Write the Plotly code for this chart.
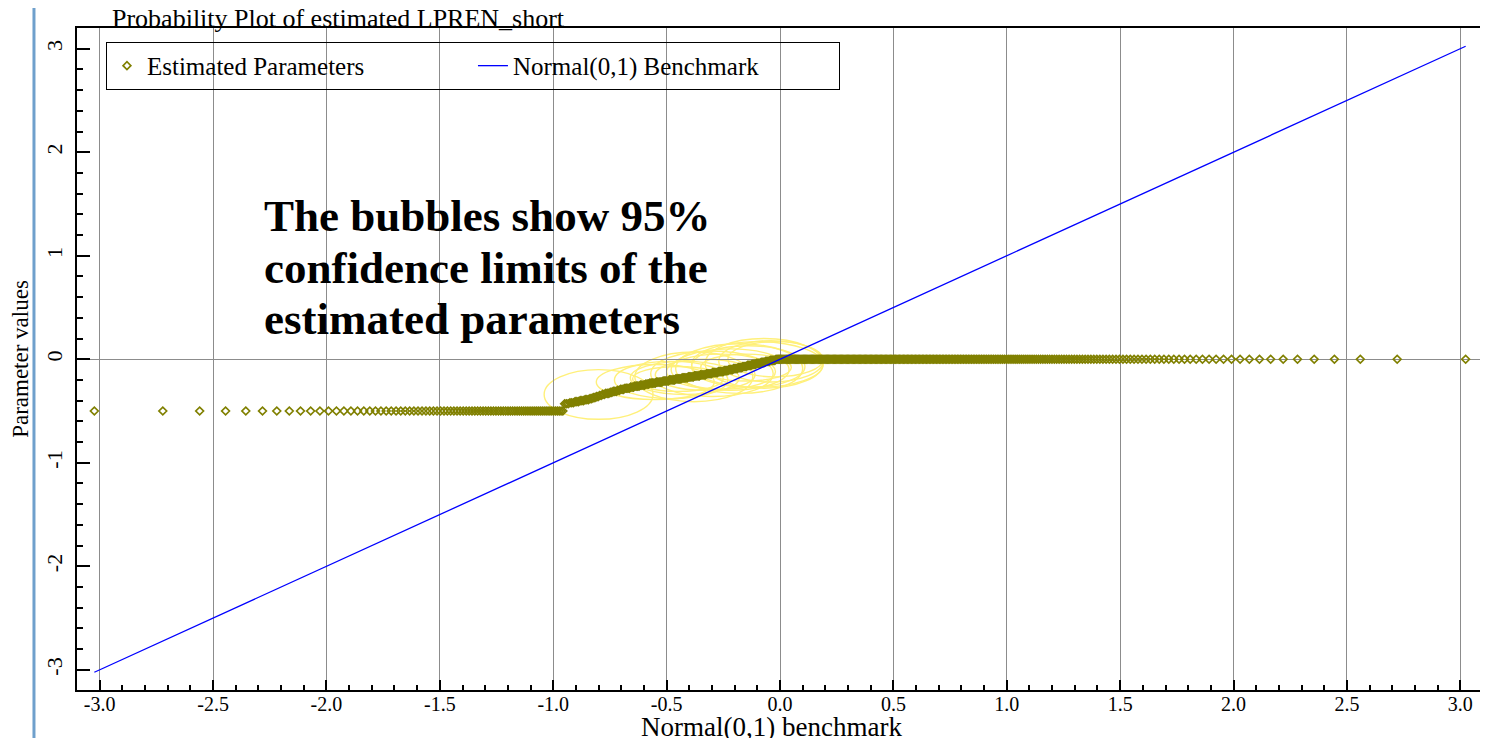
import numpy as np
from statistics import NormalDist
import plotly.graph_objects as go

# ---------------- data ----------------
# sorted estimated parameter values, run-length encoded: level and how many estimates sit at it
PARAM_LEVELS = [-0.50,
                -0.43, -0.42, -0.41, -0.40, -0.39,
                -0.38, -0.37, -0.36, -0.35, -0.34,
                -0.33, -0.32, -0.31, -0.30,
                -0.29, -0.28, -0.27,
                -0.26, -0.25, -0.24,
                -0.23, -0.22, -0.21, -0.20, -0.19, -0.18, -0.17, -0.16,
                -0.15, -0.14, -0.13, -0.12,
                -0.11, -0.10, -0.09, -0.08, -0.07, -0.06,
                -0.05, -0.04, -0.03, -0.02, -0.01,
                0.00]
PARAM_COUNTS = [85,
                3, 3, 3, 3, 3,
                2, 2, 2, 2, 2,
                3, 2, 3, 2,
                3, 4, 3,
                4, 4, 3,
                5, 5, 5, 5, 5, 5, 5, 5,
                5, 5, 5, 5,
                4, 4, 4, 4, 4, 4,
                4, 4, 4, 4, 5,
                254]

# 95% confidence bubbles: centre (x, y) and half-extent in x and y
BUBBLE_X = [-0.80, -0.55, -0.48, -0.42, -0.38, -0.33, -0.30, -0.26, -0.22, -0.18, -0.14, -0.10, -0.07, -0.04, -0.02, -0.45, -0.15]
BUBBLE_Y = [-0.34, -0.22, -0.20, -0.18, -0.17, -0.15, -0.14, -0.12, -0.10, -0.09, -0.07, -0.05, -0.04, -0.02, 0.00, -0.19, -0.08]
BUBBLE_RX = [0.24, 0.26, 0.25, 0.24, 0.26, 0.22, 0.27, 0.24, 0.26, 0.28, 0.25, 0.29, 0.26, 0.23, 0.21, 0.20, 0.20]
BUBBLE_RY = [0.24, 0.17, 0.18, 0.16, 0.24, 0.15, 0.22, 0.17, 0.20, 0.24, 0.20, 0.22, 0.24, 0.20, 0.17, 0.12, 0.13]

X_TICKS = [-3.0, -2.5, -2.0, -1.5, -1.0, -0.5, 0.0, 0.5, 1.0, 1.5, 2.0, 2.5, 3.0]
X_TICK_LABELS = ["-3.0", "-2.5", "-2.0", "-1.5", "-1.0", "-0.5", "0.0", "0.5", "1.0", "1.5", "2.0", "2.5", "3.0"]
Y_TICKS = [-3, -2, -1, 0, 1, 2, 3]
Y_TICK_LABELS = ["-3", "-2", "-1", "0", "1", "2", "3"]

TITLE = "Probability Plot of estimated LPREN_short"
X_TITLE = "Normal(0,1) benchmark"
Y_TITLE = "Parameter values"
NOTE_LINES = ["The bubbles show 95%", "confidence limits of the", "estimated parameters"]

# ---------------- probability plot positions ----------------
est = np.repeat(PARAM_LEVELS, PARAM_COUNTS)
n = len(est)
nd = NormalDist()
q = np.array([nd.inv_cdf((i + 1 - 0.375) / (n + 0.25)) for i in range(n)])

SERIF = "Liberation Serif, Times New Roman, serif"
W, H = 1480, 730  # page adds an 8px body margin

fig = go.Figure()
fig.add_trace(go.Scatter(
    x=q, y=est, mode="markers", name="Estimated Parameters",
    marker=dict(symbol="diamond-open", size=6, color="#808000", line=dict(width=1.7, color="#808000")),
))
fig.add_trace(go.Scatter(
    x=q, y=q, mode="lines", name="Normal(0,1) Benchmark",
    line=dict(color="#0000FF", width=1.3),
))

shapes = []
for cx, cy, rx, ry in zip(BUBBLE_X, BUBBLE_Y, BUBBLE_RX, BUBBLE_RY):
    shapes.append(dict(type="circle", xref="x", yref="y",
                       x0=cx - rx, x1=cx + rx, y0=cy - ry, y1=cy + ry,
                       line=dict(color="#FFF07A", width=1.4), layer="below"))
# left blue page border
shapes.append(dict(type="line", xref="paper", yref="paper",
                   x0=-0.0306, x1=-0.0306, y0=-0.2, y1=1.2,
                   line=dict(color="#6FA0CC", width=3)))

annotations = []
for text, yy in zip(NOTE_LINES, [0.716, 0.6375, 0.5604]):
    annotations.append(dict(text="<b>" + text + "</b>", xref="paper", yref="paper",
                            x=0.1316, y=yy, xanchor="left", yanchor="middle",
                            showarrow=False, font=dict(family=SERIF, size=45, color="black")))
# x-axis title, sitting right under the tick labels at the page bottom
annotations.append(dict(text=X_TITLE, xref="paper", yref="paper", x=0.494, y=-0.056,
                        xanchor="center", yanchor="middle", showarrow=False,
                        font=dict(family=SERIF, size=27, color="black")))

fig.update_layout(
    width=W, height=H,
    margin=dict(l=69, r=5, t=20, b=48),
    paper_bgcolor="white", plot_bgcolor="white",
    font=dict(family=SERIF, color="black"),
    title=dict(text=TITLE, x=104 / W, xanchor="left", y=1 - 10 / H, yanchor="middle",
               font=dict(family=SERIF, size=26, color="black")),
    showlegend=True,
    legend=dict(orientation="h", x=0.0206, y=0.979, xanchor="left", yanchor="top",
                bgcolor="rgba(0,0,0,0)", bordercolor="black", borderwidth=1,
                entrywidth=321, entrywidthmode="pixels",
                font=dict(family=SERIF, size=25, color="black")),
    shapes=shapes,
    annotations=annotations,
)

fig.update_xaxes(
    range=[-3.1, 3.1], tickvals=X_TICKS, ticktext=X_TICK_LABELS,
    ticks="inside", ticklen=10, tickwidth=2, tickcolor="black",
    minor=dict(dtick=0.1, ticks="inside", ticklen=5, tickwidth=1.5, tickcolor="black", showgrid=False),
    showgrid=True, gridcolor="#8C8C8C", gridwidth=1, zeroline=False,
    showline=True, linecolor="black", linewidth=2, mirror=True,
    tickfont=dict(family=SERIF, size=20, color="black"), ticklabelstandoff=-5,
    automargin=False,
)
fig.update_yaxes(
    range=[-3.195, 3.2], tickvals=Y_TICKS, ticktext=Y_TICK_LABELS, tickangle=-90,
    ticks="inside", ticklen=13, tickwidth=2, tickcolor="black",
    minor=dict(dtick=0.2, ticks="inside", ticklen=6, tickwidth=1.5, tickcolor="black", showgrid=False),
    showgrid=False, zeroline=True, zerolinecolor="#8C8C8C", zerolinewidth=1,
    showline=True, linecolor="black", linewidth=2, mirror=True,
    tickfont=dict(family=SERIF, size=22, color="black"), ticklabelstandoff=4,
    title=dict(text=Y_TITLE, font=dict(family=SERIF, size=23, color="black"), standoff=10),
    automargin=False,
)

fig.write_html("out.html")
